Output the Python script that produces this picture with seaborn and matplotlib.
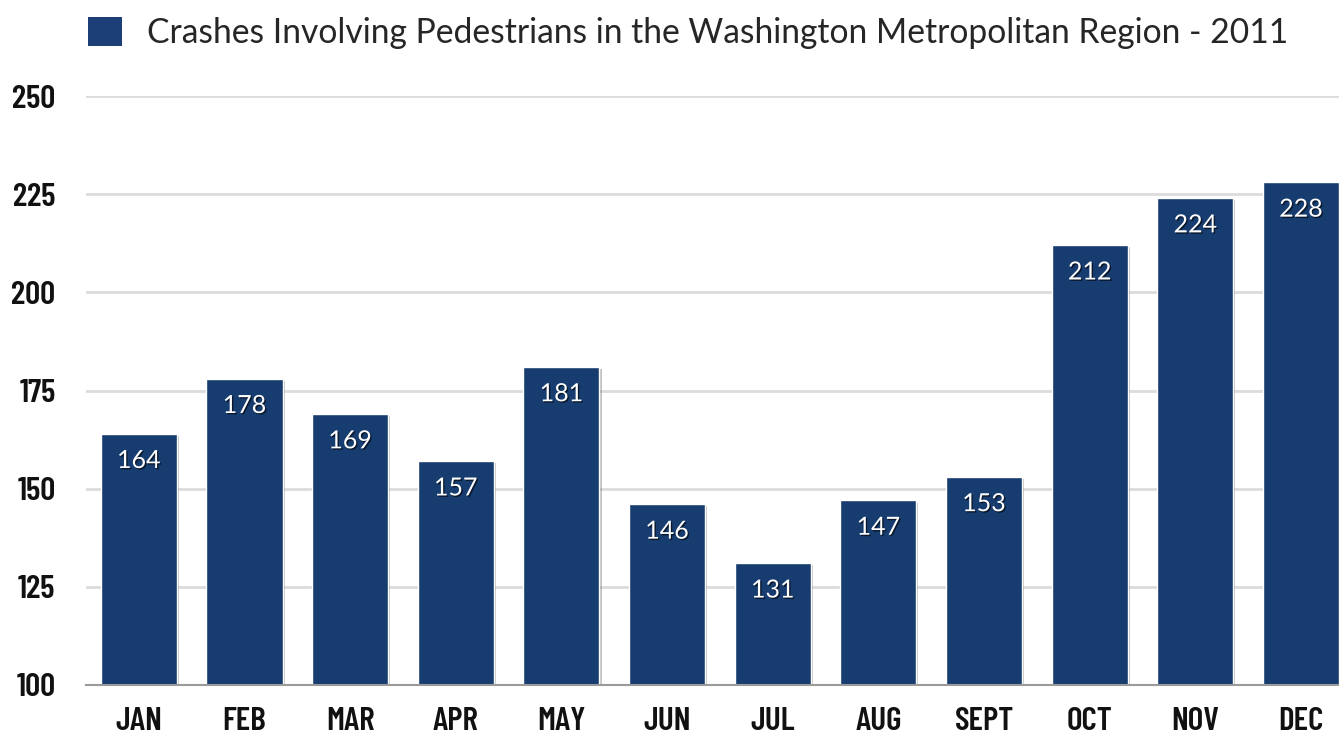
import matplotlib
matplotlib.use("Agg")
import matplotlib.pyplot as plt
import matplotlib.patheffects as pe
import seaborn as sns
import pandas as pd
from matplotlib.patches import Patch

months = ["JAN", "FEB", "MAR", "APR", "MAY", "JUN", "JUL", "AUG", "SEPT", "OCT", "NOV", "DEC"]
crashes = [164, 178, 169, 157, 181, 146, 131, 147, 153, 212, 224, 228]
series_name = "Crashes Involving Pedestrians in the Washington Metropolitan Region - 2011"
y_ticks = [100, 125, 150, 175, 200, 225, 250]

df = pd.DataFrame({"month": months, "crashes": crashes})

sns.set_theme(style="white")
bar_color = "#173c70"

fig = plt.figure(figsize=(13.39, 7.43), dpi=100)
ax = fig.add_axes([86 / 1339, 1 - 685 / 743, 1 - 86 / 1339, (685 - 96) / 743])

sns.barplot(data=df, x="month", y="crashes", color=bar_color, width=0.72,
            saturation=1, ax=ax, zorder=3)

for p in ax.patches:
    p.set_path_effects([pe.SimplePatchShadow(offset=(1.5, -1.5), alpha=0.35, shadow_rgbFace="#555555"), pe.Normal()])

ax.set_ylim(100, 250)
ax.set_xlim(-0.5, 11.36)
ax.set_yticks(y_ticks)
ax.set_yticklabels([str(t) for t in y_ticks])
ax.set_xlabel("")
ax.set_ylabel("")
ax.yaxis.grid(True, color="#dcdcdc", linewidth=2, zorder=0)
ax.set_axisbelow(True)
for s in ["top", "right", "left"]:
    ax.spines[s].set_visible(False)
ax.spines["bottom"].set_color("#9a9a9a")
ax.spines["bottom"].set_linewidth(1.5)
ax.spines["bottom"].set_zorder(4)

tick_family = ["Barlow Condensed", "Archivo Narrow", "DejaVu Sans"]
ax.tick_params(axis="y", length=0, pad=22)
ax.tick_params(axis="x", length=0, pad=16)
for lab in ax.get_yticklabels() + ax.get_xticklabels():
    lab.set_fontfamily(tick_family)
    lab.set_fontweight("semibold")
    lab.set_fontsize(24)
    lab.set_color("#111111")

for i, v in enumerate(crashes):
    ax.annotate(str(v), xy=(i, v), xytext=(0, -11), textcoords="offset points",
                ha="center", va="top", color="white", fontsize=18,
                family=["Lato", "DejaVu Sans"], zorder=5,
                path_effects=[pe.withSimplePatchShadow(offset=(1, -1), alpha=0.6, shadow_rgbFace="black")])

handle = Patch(facecolor="#1b3f76", edgecolor="none")
fig.legend([handle], [series_name], loc="upper left", bbox_to_anchor=(75 / 1339, 1 - 4 / 743),
           frameon=False, prop=dict(family=["Lato", "DejaVu Sans"], size=24.2),
           handlelength=1.0, handleheight=0.95, handletextpad=0.75, borderaxespad=0)

fig.savefig("out.png", dpi=100)
